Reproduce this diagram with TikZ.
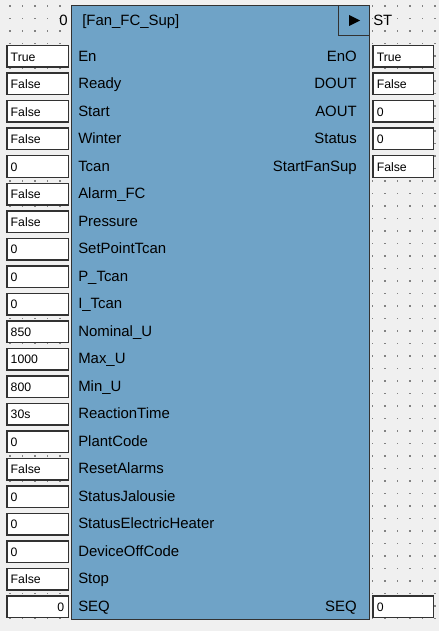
\documentclass[tikz,border=0pt]{standalone}
\usepackage{fontspec}
\setmainfont{Liberation Sans}
\usetikzlibrary{positioning}

\definecolor{fbblue}{RGB}{111,163,199}
\definecolor{canvasgray}{RGB}{240,240,240}
\definecolor{gridgray}{RGB}{130,130,130}
\definecolor{edgegray}{RGB}{50,50,50}

\begin{document}
\begin{tikzpicture}[
    x=0.75pt, y=-0.75pt,
    every node/.style={font=\fontsize{11.2}{13}\selectfont},
    fblock/.style={rectangle, draw=edgegray, line width=0.75pt, fill=fbblue, minimum width=223.5pt, minimum height=460.5pt, inner sep=0pt},
    runbox/.style={rectangle, draw=edgegray, line width=0.75pt, fill=fbblue, minimum width=23.25pt, minimum height=22.5pt, inner sep=0pt},
    portname/.style={inner sep=0pt, text height=0.72em, text depth=0pt},
    valbox/.style={rectangle, draw=edgegray, line width=1.125pt, fill=white, minimum height=16.125pt, inner xsep=3pt, inner ysep=0pt, align=left, text height=0.72em, text depth=0pt, font=\fontsize{9.2}{11}\selectfont},
    inval/.style={valbox, text width=40.125pt},
    outval/.style={valbox, text width=39.375pt}
]

% Canvas with dot grid
\useasboundingbox (0,0) rectangle (439,631);
\fill[canvasgray] (0,0) rectangle (439,631);
\foreach \gx in {10,22.5,...,436} {
    \foreach \gy in {6,18.5,...,630} {
        \fill[gridgray] (\gx-0.7,\gy-0.7) rectangle +(1.4,1.4);
    }
}

% Function block
\node[fblock, anchor=north west] (fb) at (71,5) {};
\node[runbox, anchor=north east] (run) at (fb.north east) {};
\fill[black] ([shift={(-5,-5.5)}]run.center) -- ([shift={(-5,5.5)}]run.center) -- ([shift={(6,0)}]run.center) -- cycle;

% Header texts
\node[portname, anchor=west] (title) at (82,20.5) {[Fan\_FC\_Sup]};
\node[portname, anchor=east] (order) at (68,20.5) {0};
\node[portname, anchor=west] (task) at (373,20.5) {ST};

% Input values
\node[inval] (in1) at (37.5,56.5) {True};
\node[inval, below=3.375pt of in1] (in2) {False};
\node[inval, below=3.375pt of in2] (in3) {False};
\node[inval, below=3.375pt of in3] (in4) {False};
\node[inval, below=3.375pt of in4] (in5) {0};
\node[inval, below=3.375pt of in5] (in6) {False};
\node[inval, below=3.375pt of in6] (in7) {False};
\node[inval, below=3.375pt of in7] (in8) {0};
\node[inval, below=3.375pt of in8] (in9) {0};
\node[inval, below=3.375pt of in9] (in10) {0};
\node[inval, below=3.375pt of in10] (in11) {850};
\node[inval, below=3.375pt of in11] (in12) {1000};
\node[inval, below=3.375pt of in12] (in13) {800};
\node[inval, below=3.375pt of in13] (in14) {30s};
\node[inval, below=3.375pt of in14] (in15) {0};
\node[inval, below=3.375pt of in15] (in16) {False};
\node[inval, below=3.375pt of in16] (in17) {0};
\node[inval, below=3.375pt of in17] (in18) {0};
\node[inval, below=3.375pt of in18] (in19) {0};
\node[inval, below=3.375pt of in19] (in20) {False};
\node[inval, align=right, below=3.375pt of in20] (in21) {0};

% Input names
\node[portname, right=6.75pt of in1] (lin1) {En};
\node[portname, right=6.75pt of in2] (lin2) {Ready};
\node[portname, right=6.75pt of in3] (lin3) {Start};
\node[portname, right=6.75pt of in4] (lin4) {Winter};
\node[portname, right=6.75pt of in5] (lin5) {Tcan};
\node[portname, right=6.75pt of in6] (lin6) {Alarm\_FC};
\node[portname, right=6.75pt of in7] (lin7) {Pressure};
\node[portname, right=6.75pt of in8] (lin8) {SetPointTcan};
\node[portname, right=6.75pt of in9] (lin9) {P\_Tcan};
\node[portname, right=6.75pt of in10] (lin10) {I\_Tcan};
\node[portname, right=6.75pt of in11] (lin11) {Nominal\_U};
\node[portname, right=6.75pt of in12] (lin12) {Max\_U};
\node[portname, right=6.75pt of in13] (lin13) {Min\_U};
\node[portname, right=6.75pt of in14] (lin14) {ReactionTime};
\node[portname, right=6.75pt of in15] (lin15) {PlantCode};
\node[portname, right=6.75pt of in16] (lin16) {ResetAlarms};
\node[portname, right=6.75pt of in17] (lin17) {StatusJalousie};
\node[portname, right=6.75pt of in18] (lin18) {StatusElectricHeater};
\node[portname, right=6.75pt of in19] (lin19) {DeviceOffCode};
\node[portname, right=6.75pt of in20] (lin20) {Stop};
\node[portname, right=6.75pt of in21] (lin21) {SEQ};

% Output values
\node[outval] (out1) at (403,56.5) {True};
\node[outval, below=3.375pt of out1] (out2) {False};
\node[outval, below=3.375pt of out2] (out3) {0};
\node[outval, below=3.375pt of out3] (out4) {0};
\node[outval, below=3.375pt of out4] (out5) {False};
\node[outval] (out6) at (out1 |- in21) {0};

% Output names
\node[portname, left=11.25pt of out1] (lout1) {EnO};
\node[portname, left=11.25pt of out2] (lout2) {DOUT};
\node[portname, left=11.25pt of out3] (lout3) {AOUT};
\node[portname, left=11.25pt of out4] (lout4) {Status};
\node[portname, left=11.25pt of out5] (lout5) {StartFanSup};
\node[portname, left=11.25pt of out6] (lout6) {SEQ};

\end{tikzpicture}
\end{document}
